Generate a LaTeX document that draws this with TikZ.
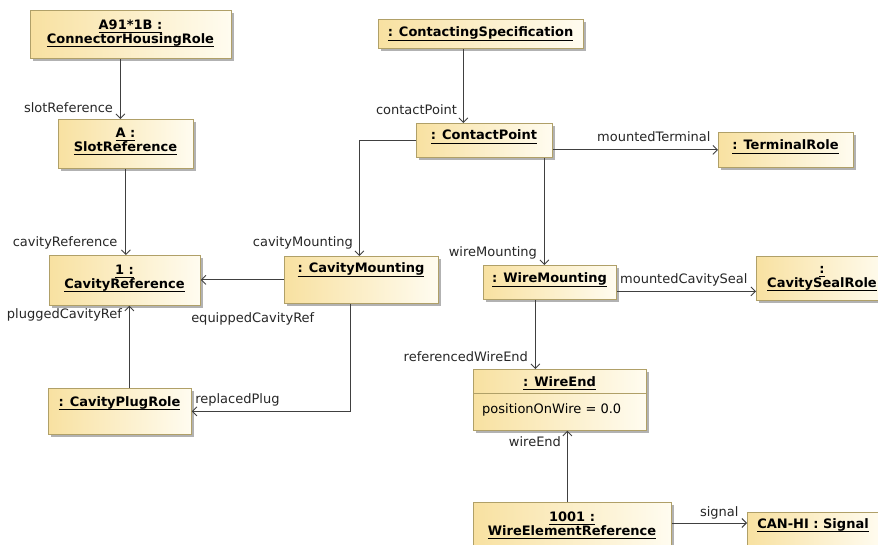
\documentclass[tikz,border=0pt]{standalone}
\usepackage{fontspec}
\setmainfont{DejaVu Sans}
\usetikzlibrary{arrows.meta,shadows}

\definecolor{objedge}{HTML}{B0A068}
\definecolor{objwarm}{HTML}{F8E1A1}
\definecolor{objpale}{HTML}{FFFCF0}
\definecolor{wire}{HTML}{404040}

% underlined instance names
\newsavebox{\objbox}
\newcommand{\objname}[1]{\sbox{\objbox}{#1}\rlap{\rule[-3.6pt]{\wd\objbox}{1pt}}\usebox{\objbox}}
% two centred lines, 14pt apart
\newcommand{\twoline}[2]{\vbox{\baselineskip=14pt\lineskiplimit=-20pt\lineskip=0pt
  \halign{\hfil##\hfil\cr\objname{#1}\cr\objname{#2}\cr}}}

\tikzset{
  obj/.style={draw=objedge, line width=0.8pt, left color=objwarm, right color=objpale,
    inner sep=0pt, anchor=north west,
    drop shadow={shadow xshift=3pt, shadow yshift=-3pt, fill=black, opacity=.3}},
  ttl/.style={inner sep=0pt, font=\fontsize{13}{14}\selectfont\bfseries, text=black},
  attr/.style={inner sep=0pt, font=\fontsize{13}{14}\selectfont, text=black},
  role/.style={inner sep=0pt, font=\fontsize{13}{14}\selectfont, text=black!85},
  assoc/.style={draw=wire, line width=0.9pt, -{Straight Barb[length=4.5pt,width=9pt]}},
  compartment/.style={draw=objedge, line width=0.8pt},
}

\begin{document}
\begin{tikzpicture}[x=1pt, y=-1pt]
\useasboundingbox (0,0) rectangle (878,545);
\clip (0,0) rectangle (878,545);

% object boxes
\node[obj, minimum width=201pt, minimum height=48pt] (chr) at (30,10) {};
\node[obj, minimum width=135pt, minimum height=49pt] (sr)  at (58,119) {};
\node[obj, minimum width=151pt, minimum height=50pt] (cr)  at (49,255) {};
\node[obj, minimum width=143pt, minimum height=46pt] (cpr) at (48,388) {};
\node[obj, minimum width=154pt, minimum height=47pt] (cm)  at (284,256) {};
\node[obj, minimum width=205pt, minimum height=29pt] (cs)  at (378,19) {};
\node[obj, minimum width=136pt, minimum height=34pt] (cp)  at (416,123) {};
\node[obj, minimum width=135pt, minimum height=35pt] (tr)  at (718,132) {};
\node[obj, minimum width=133pt, minimum height=34pt] (wm)  at (483,265) {};
\node[obj, minimum width=132pt, minimum height=44pt] (csr) at (756,256) {};
\node[obj, minimum width=173pt, minimum height=61pt] (we)  at (473,369) {};
\node[obj, minimum width=198pt, minimum height=60pt] (wer) at (473,502) {};
\node[obj, minimum width=133pt, minimum height=45pt] (sig) at (747,512) {};

% attribute compartment of the wire end
\draw[compartment] ([yshift=-24pt]we.north west) -- ([yshift=-24pt]we.north east);

% instance names
\node[ttl] (chrT) at (130.5,33) {\twoline{A91*1B :}{ConnectorHousingRole}};
\node[ttl] (srT)  at (125.5,141.5) {\twoline{A :}{SlotReference}};
\node[ttl] (crT)  at (124.5,278.5) {\twoline{1 :}{CavityReference}};
\node[ttl, anchor=base] (cprT) at (119.5,406) {\objname{: CavityPlugRole}};
\node[ttl, anchor=base] (cmT)  at (361,273) {\objname{: CavityMounting}};
\node[ttl, anchor=base] (csT)  at (480.5,37) {\objname{: ContactingSpecification}};
\node[ttl, anchor=base] (cpT)  at (484,140) {\objname{: ContactPoint}};
\node[ttl, anchor=base] (trT)  at (785.5,150) {\objname{: TerminalRole}};
\node[ttl, anchor=base] (wmT)  at (549.5,283) {\objname{: WireMounting}};
\node[ttl] (csrT) at (822,278.5) {\twoline{:}{CavitySealRole}};
\node[ttl, anchor=base] (weT)  at (559.5,386) {\objname{: WireEnd}};
\node[attr, anchor=base west] (weA) at (482,413) {positionOnWire = 0.0};
\node[ttl] (werT) at (572,525.5) {\twoline{1001 :}{WireElementReference}};
\node[ttl, anchor=base] (sigT) at (813,528) {\objname{CAN-HI : Signal}};

% connector ports
\coordinate (p1)  at ([xshift=-10.5pt]chr.south);
\coordinate (p4)  at ([xshift=9.5pt]cpr.north);
\coordinate (p5)  at ([xshift=-11pt]cm.south);
\coordinate (p6)  at ([xshift=-21pt]cp.north);
\coordinate (p7)  at ([xshift=-2pt]cm.north);
\coordinate (p9)  at ([xshift=-5.5pt]wm.north);
\coordinate (p10) at ([yshift=-9pt]wm.east);
\coordinate (p11) at ([xshift=-14.5pt]wm.south);
\coordinate (p12) at ([xshift=-5pt]wer.north);
\coordinate (p13) at ([yshift=-21pt]wer.north east);

% links with role names
\draw[assoc] (p1) -- (p1 |- sr.north)
  node[role, anchor=base east, xshift=-7pt, yshift=6pt] {slotReference};
\draw[assoc] (sr.south) -- (sr.south |- cr.north)
  node[role, anchor=base east, xshift=-8pt, yshift=8pt] {cavityReference};
\draw[assoc] (cm.west) -- (cm.west -| cr.east)
  node[role, anchor=base west, xshift=-10pt, yshift=-43pt] {equippedCavityRef};
\draw[assoc] (p4) -- (p4 |- cr.south)
  node[role, anchor=base east, xshift=-7pt, yshift=-13pt] {pluggedCavityRef};
\draw[assoc] (p5) |- (cpr.east)
  node[role, anchor=base west, xshift=3pt, yshift=8pt] {replacedPlug};
\draw[assoc] (p6 |- cs.south) -- (p6)
  node[role, anchor=base east, xshift=-6pt, yshift=8pt] {contactPoint};
\draw[assoc] (cp.west) -| (p7)
  node[role, anchor=base east, xshift=-6pt, yshift=9pt] {cavityMounting};
\draw[assoc] (tr.west -| cp.east) -- (tr.west)
  node[role, anchor=base east, xshift=-7pt, yshift=8pt] {mountedTerminal};
\draw[assoc] (p9 |- cp.south) -- (p9)
  node[role, anchor=base east, xshift=-7pt, yshift=8pt] {wireMounting};
\draw[assoc] (p10) -- (p10 -| csr.west)
  node[role, anchor=base east, xshift=-8pt, yshift=8pt] {mountedCavitySeal};
\draw[assoc] (p11) -- (p11 |- we.north)
  node[role, anchor=base east, xshift=-7pt, yshift=8pt] {referencedWireEnd};
\draw[assoc] (p12) -- (p12 |- we.south)
  node[role, anchor=base east, xshift=-6pt, yshift=-16pt] {wireEnd};
\draw[assoc] (p13) -- (p13 -| sig.west)
  node[role, anchor=base east, xshift=-8pt, yshift=7pt] {signal};
\end{tikzpicture}
\end{document}
